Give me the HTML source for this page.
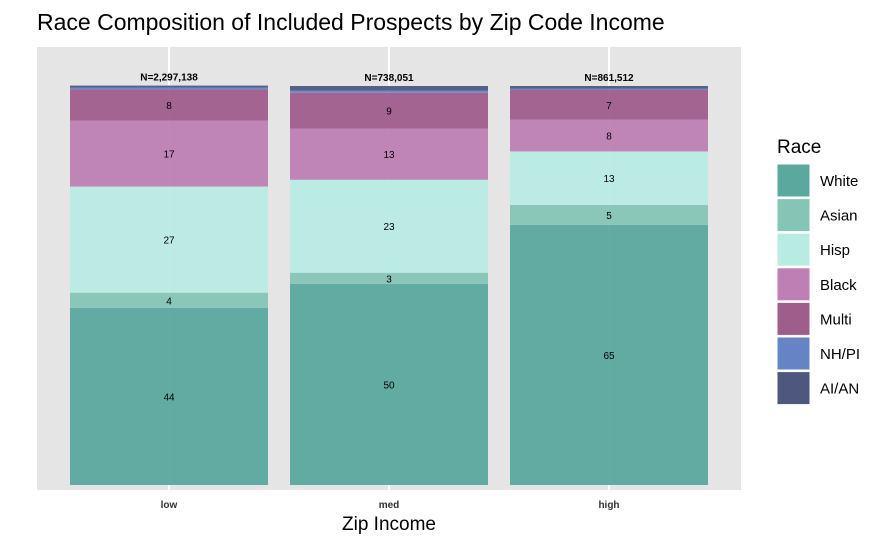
<!DOCTYPE html>
<html><head><meta charset="utf-8"><style>
body{margin:0;background:#fff;font-family:"Liberation Sans",Arial,sans-serif;}
</style></head><body>
<svg width="889" height="547" xmlns="http://www.w3.org/2000/svg">
<text x="37" y="30" font-size="23" fill="#000">Race Composition of Included Prospects by Zip Code Income</text>
<rect x="37" y="47" width="704" height="443" fill="#e5e5e5"/>
<g id="grid"></g><g id="bars"></g><g id="labels"></g><g id="xaxis"></g><g id="legend"></g>
<text x="389" y="530" font-size="19" text-anchor="middle">Zip Income</text>
</svg>
<script>
const categories=["low","med","high"];
const totals=["N=2,297,138","N=738,051","N=861,512"];
const races=["White","Asian","Hisp","Black","Multi","NH/PI","AI/AN"];
const colors=["#5ba89e","#85c5b5","#b8ebe2","#be7fb4","#9f5d8c","#6584c6","#4e587e"];
const white=[44.4,50.4,65.2];
const asian=[3.8,2.8,5.0];
const hisp=[26.6,23.3,13.4];
const black=[16.5,12.8,8.0];
const multi=[7.8,9.0,7.4];
const nhpi=[0.5,0.5,0.3];
const aian=[0.5,1.2,0.7];
const series=[white,asian,hisp,black,multi,nhpi,aian];
const NS="http://www.w3.org/2000/svg";
const y=v=>485-v*3.99;
const xc=i=>169+i*220;
const bw=198;
function mk(t,a,p){const e=document.createElementNS(NS,t);for(const k in a)e.setAttribute(k,a[k]);p.appendChild(e);return e;}
const grid=document.getElementById('grid'),bars=document.getElementById('bars'),labels=document.getElementById('labels'),xa=document.getElementById('xaxis'),lg=document.getElementById('legend');
categories.forEach((c,i)=>{
 const g=mk('line',{x1:xc(i),x2:xc(i),y1:47,y2:490,stroke:'#fff','stroke-width':2},grid);
 
 
 let cum=0;
 series.forEach((s,j)=>{
  const v=s[i];
  const r=mk('rect',{x:xc(i)-bw/2,y:y(cum+v),width:bw,height:v*3.99,fill:colors[j],'fill-opacity':0.95},bars);
  
  
  if(j<5){
   const t=mk('text',{x:xc(i),y:y(cum+v/2)+4,'font-size':10,'text-anchor':'middle',fill:'#000'},labels);
   t.textContent=Math.round(v);
   
   
  }
  cum+=v;
 });
 const n=mk('text',{x:xc(i),y:y(cum)-5,'font-size':10,'font-weight':'bold','text-anchor':'middle'},labels);
 n.textContent=totals[i];
 
 
 const xt=mk('text',{x:xc(i),y:508,'font-size':10,'font-weight':'bold','text-anchor':'middle',fill:'#333'},xa);
 xt.textContent=c;
 
 
});
const lt=mk('text',{x:777,y:153,'font-size':19},lg);
lt.textContent='Race';


races.forEach((r,j)=>{
 const yy=164+j*34.6;
 const b=mk('rect',{x:777,y:yy,width:33,height:33,fill:colors[j],stroke:'#fff','stroke-width':1},lg);
 
 
 const t=mk('text',{x:820,y:yy+22,'font-size':15},lg);
 t.textContent=r;
 
 
});
</script>
</body></html>
